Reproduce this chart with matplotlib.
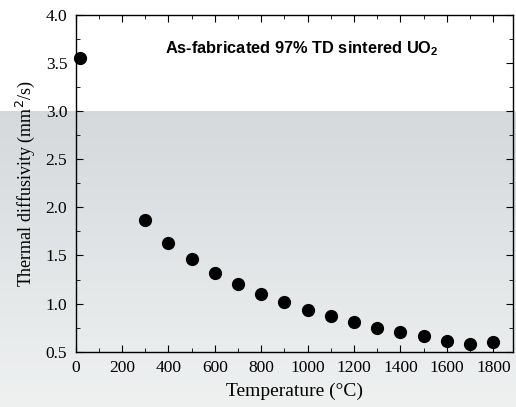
import numpy as np
import matplotlib.pyplot as plt
from matplotlib.ticker import MultipleLocator

# thermal diffusivity of as-fabricated UO2 vs temperature
temperature = [20, 300, 400, 500, 600, 700, 800, 900, 1000, 1100, 1200,
               1300, 1400, 1500, 1600, 1700, 1800]
diffusivity = [3.55, 1.87, 1.635, 1.46, 1.317, 1.206, 1.10, 1.016, 0.936,
               0.867, 0.805, 0.749, 0.704, 0.663, 0.614, 0.583, 0.604]

fig = plt.figure(figsize=(5.16, 4.07), dpi=100)
fig.patch.set_facecolor("white")

# grey gradient band behind the lower part of the figure
bg = fig.add_axes([0, 0, 1, 0.727], zorder=-1)
grad = np.linspace(0, 1, 256).reshape(-1, 1)
top = np.array([0.835, 0.850, 0.862])
bot = np.array([0.937, 0.945, 0.945])
img = top[None, None, :] * (1 - grad[:, :, None]) + bot[None, None, :] * grad[:, :, None]
bg.imshow(img, aspect="auto", extent=[0, 1, 0, 1])
bg.axis("off")

ax = fig.add_axes([0.1467, 0.1359, 0.8475, 0.8272])
ax.patch.set_alpha(0)
ax.plot(temperature, diffusivity, "o", color="black", markersize=8.5, clip_on=False)

ax.set_xlim(0, 1885)
ax.set_ylim(0.5, 4.0)
ax.xaxis.set_major_locator(MultipleLocator(200))
ax.xaxis.set_minor_locator(MultipleLocator(100))
ax.yaxis.set_major_locator(MultipleLocator(0.5))
ax.yaxis.set_minor_locator(MultipleLocator(0.25))
ax.tick_params(which="both", direction="in", top=True, right=True)
ax.tick_params(which="major", length=5)
ax.tick_params(which="minor", length=3)
ax.tick_params(axis="x", pad=6)
ax.tick_params(axis="y", pad=6)
for s in ax.spines.values():
    s.set_linewidth(1.0)

serif = "Liberation Serif"
for lbl in ax.get_xticklabels() + ax.get_yticklabels():
    lbl.set_family(serif)
    lbl.set_fontsize(12.5)
ax.set_xlabel("Temperature (°C)", family=serif, fontsize=14, labelpad=5)
ax.set_ylabel("Thermal diffusivity (mm$^2$/s)", family=serif, fontsize=13, labelpad=6)

ax.text(0.517, 0.9, "As-fabricated 97% TD sintered UO$_\\mathregular{2}$",
        transform=ax.transAxes, ha="center", va="center",
        family="Liberation Sans", fontweight="bold", fontsize=11.8)

fig.savefig("out.png", dpi=100)
